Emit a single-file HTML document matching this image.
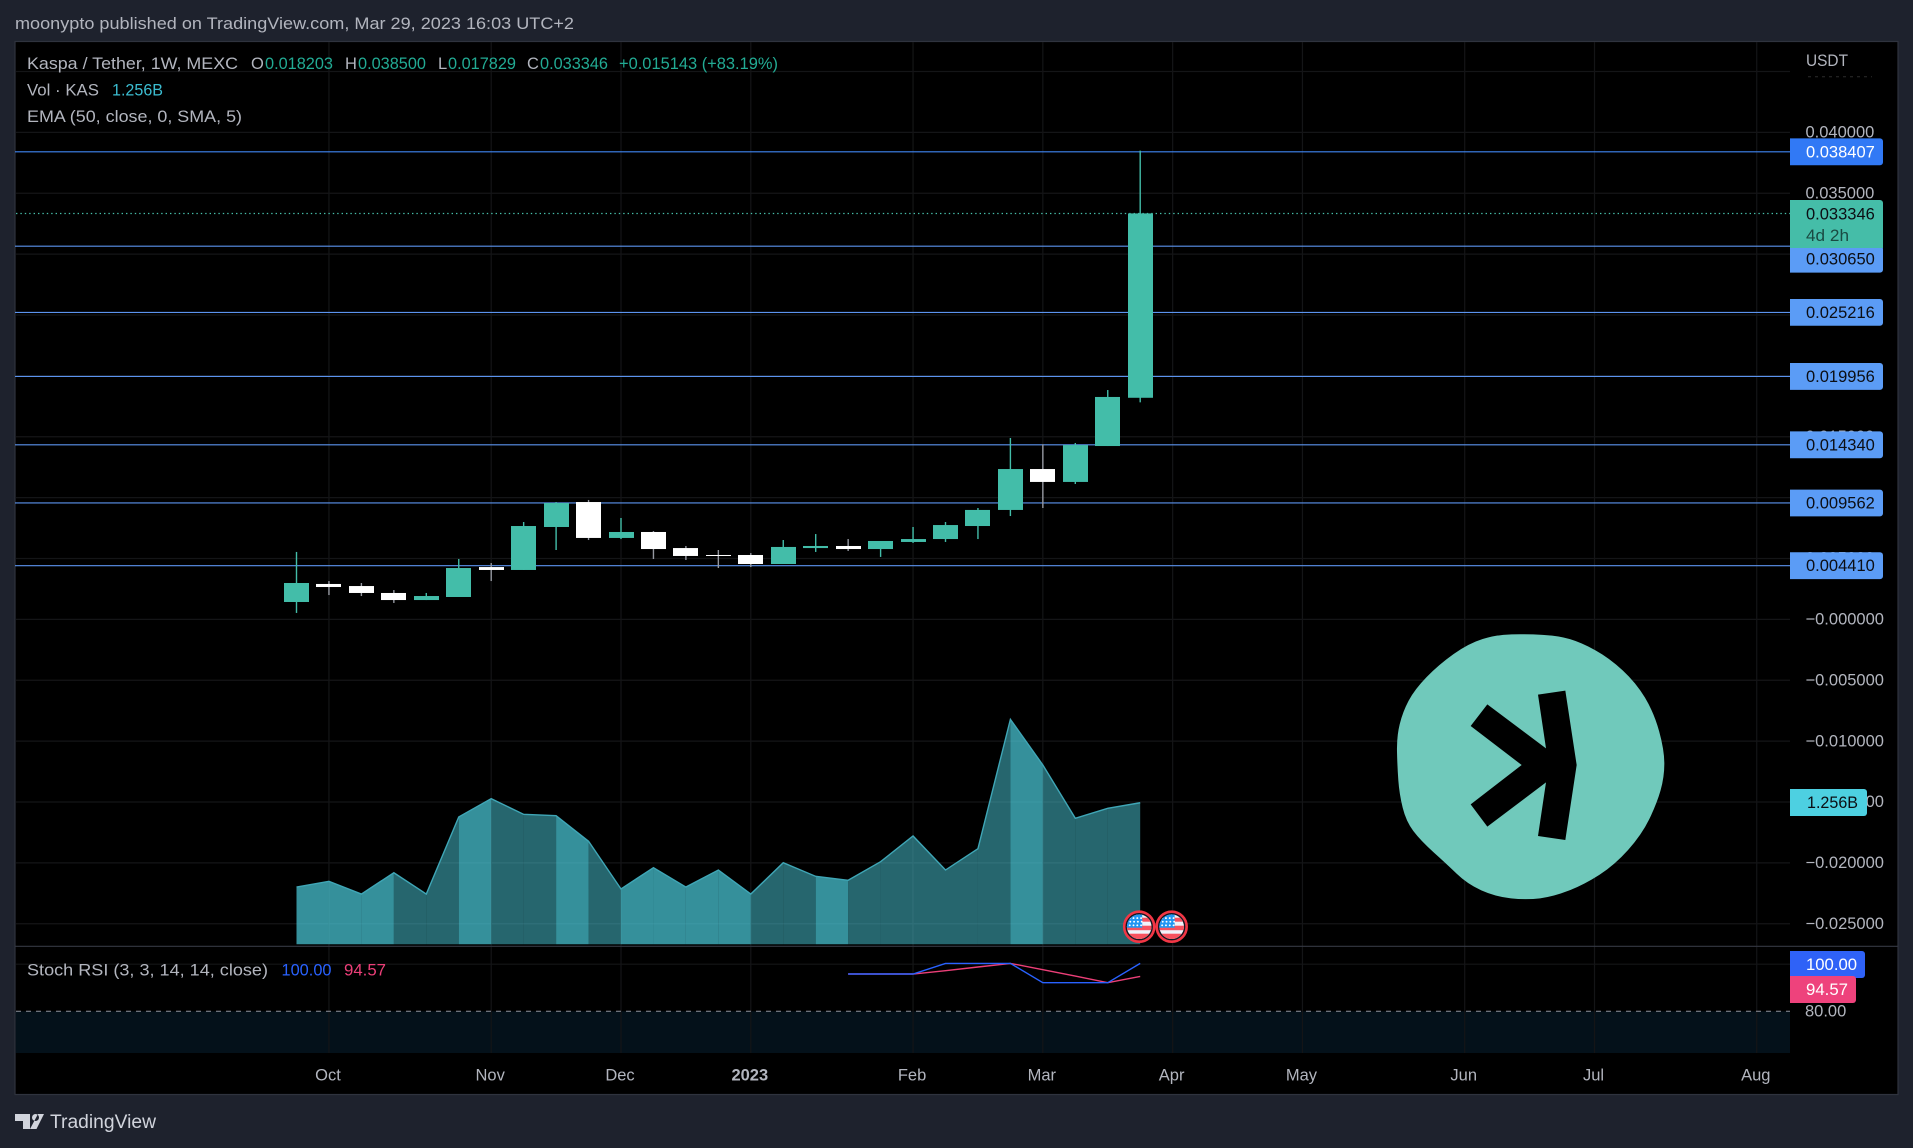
<!DOCTYPE html>
<html lang="en">
<head>
<meta charset="utf-8">
<title>Kaspa / Tether 1W chart</title>
<style>
html,body{margin:0;padding:0;background:#1e222d;width:1913px;height:1148px;overflow:hidden}
svg{display:block}
text{font-family:"Liberation Sans",sans-serif;font-size:16.5px;fill:#b2b5be}
</style>
</head>
<body>
<svg id="chart" xmlns="http://www.w3.org/2000/svg" width="1913" height="1148" viewBox="0 0 1913 1148">
  <defs>
    <clipPath id="flag-clip"><circle cx="0" cy="0" r="12.3"/></clipPath>
  </defs>
  <rect x="0" y="0" width="1913" height="1148" fill="#1e222d"/>
  <text x="15" y="29" textLength="559" lengthAdjust="spacingAndGlyphs">moonypto published on TradingView.com, Mar 29, 2023 16:03 UTC+2</text>
  <rect x="15" y="41.5" width="1883" height="1053" fill="#000" stroke="#2f333e" stroke-width="1.2"/>
  <rect x="15.6" y="1011.3" width="1774.4" height="41.7" fill="#04111a"/>
  <g id="grid"></g>
  <g id="levels"></g>
  <line x1="16" x2="1790" y1="213.5" y2="213.5" stroke="#46bda9" stroke-width="1.2" stroke-dasharray="1.4 3"/>
  <g id="volume"></g>
  <g id="candles"></g>

  <g transform="translate(1380 620) scale(.33333)">
    <path id="logo-blob" fill="#70c9bb" d=""/>
    <polygon fill="#000" points="474,224 556,212 590,435 556,660 474,648 498,487 322,620 272,553 425,435 272,318 322,253 498,385"/>
  </g>

  <g id="flags"></g>

  <line x1="15" x2="1898" y1="946.3" y2="946.3" stroke="#343843" stroke-width="1.2"/>
  <line x1="16" x2="1790" y1="1011.3" y2="1011.3" stroke="#8f929b" stroke-width="1" stroke-dasharray="5 5"/>
  <g id="stoch"></g>

  <g>
    <text x="27" y="69" textLength="211" lengthAdjust="spacingAndGlyphs">Kaspa / Tether, 1W, MEXC</text>
    <text x="251" y="69">O</text>
    <text x="265" y="69" textLength="68" lengthAdjust="spacingAndGlyphs" style="fill:#22ab94">0.018203</text>
    <text x="345" y="69">H</text>
    <text x="358" y="69" textLength="68" lengthAdjust="spacingAndGlyphs" style="fill:#22ab94">0.038500</text>
    <text x="438" y="69">L</text>
    <text x="448" y="69" textLength="68" lengthAdjust="spacingAndGlyphs" style="fill:#22ab94">0.017829</text>
    <text x="527" y="69">C</text>
    <text x="540" y="69" textLength="68" lengthAdjust="spacingAndGlyphs" style="fill:#22ab94">0.033346</text>
    <text x="619" y="69" textLength="159" lengthAdjust="spacingAndGlyphs" style="fill:#22ab94">+0.015143 (+83.19%)</text>
    <text x="27" y="95.5" textLength="72" lengthAdjust="spacingAndGlyphs">Vol · KAS</text>
    <text x="112" y="95.5" textLength="51" lengthAdjust="spacingAndGlyphs" style="fill:#3bbcd0">1.256B</text>
    <text x="27" y="122" textLength="215" lengthAdjust="spacingAndGlyphs">EMA (50, close, 0, SMA, 5)</text>
    <text x="27" y="975.5" textLength="241" lengthAdjust="spacingAndGlyphs">Stoch RSI (3, 3, 14, 14, close)</text>
    <text x="281.5" y="975.5" textLength="50" lengthAdjust="spacingAndGlyphs" style="fill:#2962ff">100.00</text>
    <text x="344" y="975.5" textLength="42" lengthAdjust="spacingAndGlyphs" style="fill:#ec3f78">94.57</text>
  </g>

  <g id="price-axis">
    <text x="1806" y="66" textLength="42" lengthAdjust="spacingAndGlyphs">USDT</text>
    <line x1="1808" x2="1872" y1="76.7" y2="76.7" stroke="#2c2c2c" stroke-width="1" stroke-dasharray="3 4"/>
  </g>
  <g id="price-tags"></g>

  <g>
    <path d="M1790 200H1880a3 3 0 0 1 3 3V248H1790Z" fill="#45bda8"/>
    <text x="1806" y="219.5" style="fill:#0c0e14">0.033346</text>
    <text x="1806" y="241" textLength="43" lengthAdjust="spacingAndGlyphs" style="fill:#1a4a42">4d 2h</text>
  </g>
  <g>
    <path d="M1790 789H1864a3 3 0 0 1 3 3V813a3 3 0 0 1-3 3H1790Z" fill="#4dd0e1"/>
    <text x="1807" y="808" textLength="51" lengthAdjust="spacingAndGlyphs" style="fill:#0c0e14">1.256B</text>
  </g>
  <g>
    <text x="1805" y="1016.5">80.00</text>
    <path d="M1790 951H1862a3 3 0 0 1 3 3V975a3 3 0 0 1-3 3H1790Z" fill="#2f62f7"/>
    <text x="1806" y="970" textLength="51" lengthAdjust="spacingAndGlyphs" style="fill:#fff">100.00</text>
    <path d="M1790 976H1853a3 3 0 0 1 3 3V1000a3 3 0 0 1-3 3H1790Z" fill="#ee427c"/>
    <text x="1806" y="995" textLength="42" lengthAdjust="spacingAndGlyphs" style="fill:#fff">94.57</text>
  </g>

  <g id="time-axis"></g>

  <g>
    <path fill="#d1d4dc" d="M15 1114H30V1129H23V1121H15Z M32 1117.5a3.5 3.5 0 1 0 7 0a3.5 3.5 0 1 0-7 0Z M38 1114H44L36.5 1129H30Z"/>
    <text x="50" y="1128" textLength="106" lengthAdjust="spacingAndGlyphs" style="font-size:19px;fill:#d1d4dc">TradingView</text>
  </g>
</svg>

<script>
/* ---------- chart data ---------- */
const opens  = [0.00143,0.00291,0.00274,0.00217,0.00159,0.00184,0.00430,0.00406,0.00759,0.00964,0.00669,0.00718,0.00586,0.00529,0.00529,0.00455,0.00586,0.00603,0.00578,0.00636,0.00660,0.00767,0.00899,0.01235,0.01129,0.01424,0.018203];
const highs  = [0.00554,0.00315,0.00299,0.00241,0.00217,0.00496,0.00463,0.00800,0.00964,0.00981,0.00833,0.00726,0.00603,0.00570,0.00545,0.00652,0.00701,0.00660,0.00644,0.00759,0.00800,0.00915,0.01490,0.01438,0.01449,0.01884,0.038500];
const lows   = [0.00053,0.00200,0.00192,0.00135,0.00159,0.00184,0.00315,0.00406,0.00570,0.00652,0.00660,0.00496,0.00488,0.00422,0.00430,0.00455,0.00554,0.00562,0.00513,0.00628,0.00636,0.00660,0.00849,0.00915,0.01112,0.01424,0.017829];
const closes = [0.00299,0.00266,0.00217,0.00159,0.00192,0.00422,0.00406,0.00767,0.00956,0.00669,0.00718,0.00578,0.00521,0.00521,0.00455,0.00595,0.00603,0.00578,0.00644,0.00660,0.00775,0.00899,0.01235,0.01129,0.01432,0.01827,0.033346];
const volumesB = [0.508,0.559,0.446,0.635,0.446,1.130,1.292,1.153,1.141,0.914,0.491,0.680,0.508,0.659,0.446,0.724,0.603,0.568,0.733,0.961,0.659,0.848,1.996,1.591,1.118,1.207,1.256];
const stochStart = 17;
const stochK = [95.57,95.57,95.57,100,100,100,91.95,91.95,91.95,100];
const stochD = [95.57,95.57,95.57,96.95,98.5,100,97.4,94.7,91.95,94.57];
const priceTicks = [0.045,0.04,0.035,0.03,0.025,0.02,0.015,0.01,0.005,0,-0.005,-0.01,-0.015,-0.02,-0.025];
const levelValues = [0.038407,0.03065,0.025216,0.019956,0.01434,0.009562,0.00441];
const monthLabels = ['Oct','Nov','Dec','2023','Feb','Mar','Apr','May','Jun','Jul','Aug'];
const monthBars = [1,6,10,14,19,23,27,31,36,40,45];
const eventBars = [26,27];
const logoOutline = [[350,44],[440,42],[535,47],[605,68],[688,114],[768,188],[822,278],[853,390],[853,472],[830,552],[785,644],[704,735],[612,794],[520,830],[440,840],[346,830],[262,792],[200,732],[122,662],[78,604],[58,522],[52,440],[50,350],[68,276],[104,208],[176,134],[266,70]];

/* ---------- axis functions ---------- */
function xAt(i){ return 296.5 + i * 32.45; }
function yPrice(v){ return 619.4 - v * 12175; }
function yVol(v){ return 944.3 - v * 112.7; }
function yStoch(v){ return 1011.3 - (v - 80) * 2.395; }

const NS = 'http://www.w3.org/2000/svg';
function add(parent, tag, attrs, txt){
  const el = document.createElementNS(NS, tag);
  for (const k in attrs) el.setAttribute(k, attrs[k]);
  if (txt !== undefined) el.textContent = txt;
  parent.appendChild(el);
  return el;
}
const gridG = document.getElementById('grid');
const gridColor = '#141517';

priceTicks.forEach(function(v){
  const el = add(gridG, 'line', {x1:16, x2:1790, y1:yPrice(v), y2:yPrice(v), stroke:gridColor, 'stroke-width':1.2});
  
  
});
const stochGrid = add(gridG, 'line', {x1:16, x2:1790, y1:yStoch(100)+.8, y2:yStoch(100)+.8, stroke:gridColor, 'stroke-width':1.2});



const timeG = document.getElementById('time-axis');
monthBars.forEach(function(b, i){
  const x = xAt(b);
  const gl = add(gridG, 'line', {x1:x, x2:x, y1:42, y2:1053, stroke:gridColor, 'stroke-width':1.2});
  
  
  const isYear = monthLabels[i] === '2023';
  const t = add(timeG, 'text', {x:x-1, y:1080.5, 'text-anchor':'middle', 'font-weight':isYear ? 'bold' : 'normal'}, monthLabels[i]);
  
  
});

/* price tick labels */
const axisG = document.getElementById('price-axis');
priceTicks.forEach(function(v){
  if (v > 0.04) return;
  const label = (v <= 0 ? '\u2212' : '') + Math.abs(v).toFixed(6);
  const t = add(axisG, 'text', {x:1805.5, y:yPrice(v)+5.2}, label);
  
  
});

/* horizontal levels + tags */
const levelsG = document.getElementById('levels');
const tagsG = document.getElementById('price-tags');
levelValues.forEach(function(v, i){
  const y = yPrice(v);
  const line = add(levelsG, 'line', {x1:15, x2:1790, y1:y, y2:y, stroke:i === 0 ? '#3f86f3' : '#5b93ee', 'stroke-width':1.1});
  
  
  const cy = (i === 1) ? y + 13 : y;
  const box = add(tagsG, 'path', {d:'M1790 '+(cy-13.4)+'H1880a3 3 0 0 1 3 3V'+(cy+10.4)+'a3 3 0 0 1-3 3H1790Z', fill:i === 0 ? '#3179f5' : '#5b9cf6'});
  
  
  const t = add(tagsG, 'text', {x:1806, y:cy+5.5, style:'fill:'+(i === 0 ? '#ffffff' : '#0c0e14')}, v.toFixed(6));
  
  
});

/* volume area: one band per step, shade follows candle direction */
const volG = document.getElementById('volume');
for (let i = 0; i < volumesB.length - 1; i++){
  const down = closes[i+1] < opens[i+1];
  const pts = [xAt(i)+','+yVol(0), xAt(i)+','+yVol(volumesB[i]), xAt(i+1)+','+yVol(volumesB[i+1]), xAt(i+1)+','+yVol(0)].join(' ');
  const seg = add(volG, 'polygon', {points:pts, fill:down ? 'rgba(77,208,225,.69)' : 'rgba(77,208,225,.49)'});
  
  
}
const volLine = add(volG, 'polyline', {points:volumesB.map(function(v,i){return xAt(i)+','+yVol(v);}).join(' '), fill:'none', stroke:'#3fa6b6', 'stroke-width':1.4});



/* candles */
const candleG = document.getElementById('candles');
opens.forEach(function(o, i){
  const c = closes[i];
  const up = c >= o;
  const x = xAt(i);
  const bodyColor = up ? '#43bda9' : '#ffffff';
  const wickColor = up ? '#43bda9' : '#9598a1';
  const wick = add(candleG, 'rect', {x:x-.7, y:yPrice(highs[i]), width:1.4, height:yPrice(lows[i])-yPrice(highs[i]), fill:wickColor});
  
  
  const top = yPrice(Math.max(o,c));
  const h = Math.max(1, yPrice(Math.min(o,c)) - top);
  const body = add(candleG, 'rect', {x:Math.round(x-12.5), y:top, width:25, height:h, fill:bodyColor});
  
  
});

/* stochastic lines */
const stochG = document.getElementById('stoch');
const dLine = add(stochG, 'polyline', {points:stochD.map(function(v,i){return xAt(stochStart+i)+','+yStoch(v);}).join(' '), fill:'none', stroke:'#ec3f78', 'stroke-width':1.4});


const kLine = add(stochG, 'polyline', {points:stochK.map(function(v,i){return xAt(stochStart+i)+','+yStoch(v);}).join(' '), fill:'none', stroke:'#2962ff', 'stroke-width':1.4});



/* logo outline smoothing */
(function(){
  const p = logoOutline, n = p.length;
  function mid(a,b){ return ((a[0]+b[0])/2)+' '+((a[1]+b[1])/2); }
  let d = 'M' + mid(p[n-1], p[0]);
  for (let i = 0; i < n; i++){ d += 'Q' + p[i][0] + ' ' + p[i][1] + ' ' + mid(p[i], p[(i+1)%n]); }
  document.getElementById('logo-blob').setAttribute('d', d + 'Z');
})();

/* event flags */
const flagsG = document.getElementById('flags');
eventBars.forEach(function(b){
  const g = add(flagsG, 'g', {transform:'translate('+(xAt(b)-1)+' 926.7)'});
  
  
  add(g, 'circle', {r:15, fill:'#131722', stroke:'#f23645', 'stroke-width':2.6});
  const inner = add(g, 'g', {'clip-path':'url(#flag-clip)'});
  add(inner, 'rect', {x:-13, y:-13, width:26, height:26, fill:'#f0f3fa'});
  add(inner, 'rect', {x:-13, y:-9, width:26, height:4, fill:'#f7525f'});
  add(inner, 'rect', {x:-13, y:-1, width:26, height:4.5, fill:'#f7525f'});
  add(inner, 'rect', {x:-13, y:7, width:26, height:6, fill:'#f7525f'});
  add(inner, 'rect', {x:-13, y:-13, width:16, height:14, fill:'#2196f3'});
  for (let r = 0; r < 3; r++){
    for (let c = 0; c < 4; c++){
      add(inner, 'circle', {cx:-9.5 + c*3.8 + (r%2)*0.6, cy:-8.6 + r*3.6, r:.95, fill:'#fff'});
    }
  }
});
</script>
</body>
</html>
